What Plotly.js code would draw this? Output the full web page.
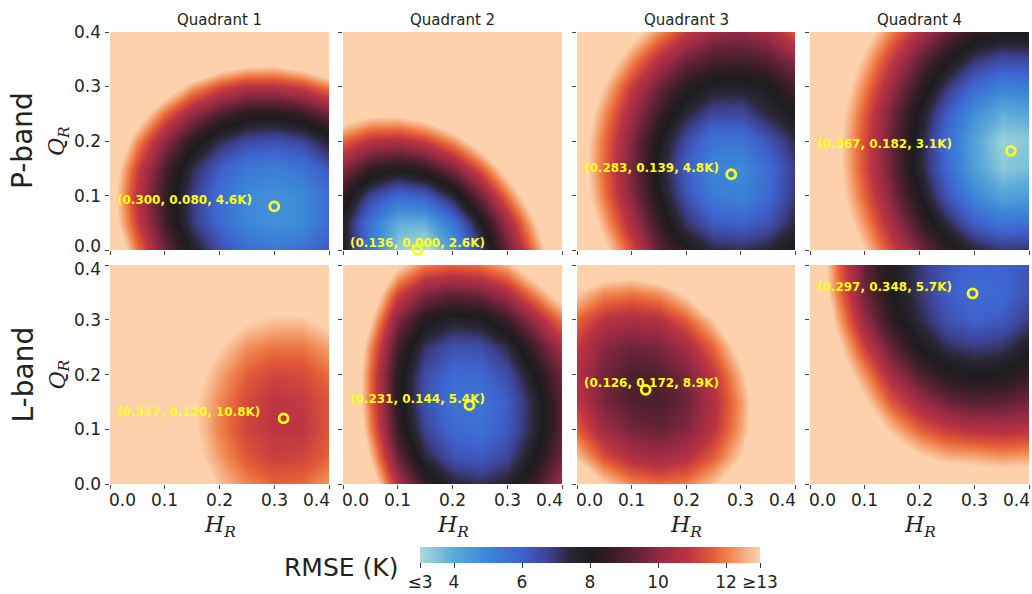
<!DOCTYPE html>
<html>
<head>
<meta charset="utf-8">
<script src="https://cdn.plot.ly/plotly-3.0.1.min.js"></script>
<style>
  html, body { margin: 0; padding: 0; background: #ffffff; }
  #chart { width: 1032px; height: 594px; }
</style>
</head>
<body>
<div id="chart"></div>
<script>
// ---------- data ----------
const hGrid = [0, 0.05, 0.1, 0.15, 0.2, 0.25, 0.3, 0.35, 0.4];
const qGrid = [0, 0.05, 0.1, 0.15, 0.2, 0.25, 0.3, 0.35, 0.4];
const axisTicks = [0, 0.1, 0.2, 0.3, 0.4];
const axisTickText = ["0.0", "0.1", "0.2", "0.3", "0.4"];

const quadrantTitles = ["Quadrant 1", "Quadrant 2", "Quadrant 3", "Quadrant 4"];
const bandLabels = ["P-band", "L-band"];

// best-fit points per panel (P-band Q1..Q4, then L-band Q1..Q4)
const minH = [0.300, 0.136, 0.283, 0.367, 0.317, 0.231, 0.126, 0.297];
const minQ = [0.080, 0.000, 0.139, 0.182, 0.120, 0.144, 0.172, 0.348];
const minRMSE = [4.6, 2.6, 4.8, 3.1, 10.8, 5.4, 8.9, 5.7];

// RMSE (K) read on a 0.05 grid; rows = Q_R from 0 to 0.4, columns = H_R from 0 to 0.4
const rmseP1 = [
  [14.6, 11.9, 9.5, 7.8, 6.5, 5.7, 5.4, 5.6, 6.3],
  [13.8, 11.1, 8.8, 7.0, 5.8, 5.0, 4.7, 4.9, 5.7],
  [13.6, 10.8, 8.6, 6.9, 5.6, 4.9, 4.7, 4.9, 5.7],
  [13.9, 11.2, 9.0, 7.3, 6.1, 5.4, 5.2, 5.5, 6.3],
  [14.9, 12.2, 10.0, 8.4, 7.2, 6.6, 6.4, 6.7, 7.6],
  [16.4, 13.8, 11.7, 10.1, 9.0, 8.3, 8.2, 8.6, 9.5],
  [18.7, 16.1, 14.0, 12.4, 11.3, 10.7, 10.7, 11.1, 12.0],
  [21.5, 19.0, 16.9, 15.4, 14.3, 13.8, 13.7, 14.2, 15.1],
  [25.0, 22.5, 20.4, 18.9, 17.9, 17.4, 17.4, 17.9, 18.9]
];
const rmseP2 = [
  [7.9, 5.4, 3.3, 2.7, 4.4, 6.8, 9.4, 12.0, 14.7],
  [7.7, 5.5, 3.9, 3.9, 5.5, 7.8, 10.3, 12.9, 15.5],
  [8.5, 6.7, 5.8, 6.1, 7.5, 9.5, 11.8, 14.2, 16.7],
  [9.9, 8.6, 8.1, 8.6, 9.8, 11.5, 13.6, 15.9, 18.3],
  [11.7, 10.8, 10.6, 11.1, 12.2, 13.8, 15.6, 17.7, 20.0],
  [13.8, 13.2, 13.2, 13.7, 14.7, 16.1, 17.9, 19.8, 21.9],
  [16.1, 15.7, 15.7, 16.3, 17.3, 18.6, 20.2, 22.0, 24.0],
  [18.4, 18.2, 18.3, 18.9, 19.8, 21.1, 22.6, 24.3, 26.2],
  [20.9, 20.7, 21.0, 21.5, 22.4, 23.6, 25.0, 26.6, 28.4]
];
const rmseP3 = [
  [15.3, 13.3, 11.3, 9.3, 8.1, 7.4, 7.2, 7.5, 8.2],
  [14.5, 12.5, 10.5, 8.6, 7.1, 6.2, 6.0, 6.4, 7.4],
  [14.0, 11.9, 9.9, 8.0, 6.4, 5.3, 5.1, 5.8, 7.0],
  [13.8, 11.7, 9.6, 7.7, 6.1, 5.0, 4.9, 5.7, 6.9],
  [13.9, 11.8, 9.8, 8.0, 6.5, 5.5, 5.5, 6.3, 7.3],
  [14.2, 12.2, 10.3, 8.7, 7.4, 6.6, 6.6, 7.4, 8.0],
  [14.8, 12.9, 11.0, 9.5, 8.3, 7.7, 7.6, 8.0, 8.9],
  [15.6, 13.9, 12.2, 10.7, 9.6, 9.0, 8.9, 9.2, 10.0],
  [16.7, 15.1, 13.5, 12.2, 11.0, 10.2, 10.0, 10.4, 11.5]
];
const rmseP4 = [
  [16.5, 14.6, 12.9, 11.2, 9.7, 8.4, 7.5, 7.0, 7.1],
  [15.9, 14.0, 12.2, 10.4, 8.7, 7.3, 6.1, 5.5, 5.6],
  [15.5, 13.5, 11.6, 9.8, 8.0, 6.3, 5.0, 4.2, 4.4],
  [15.3, 13.3, 11.3, 9.4, 7.5, 5.8, 4.3, 3.4, 3.6],
  [15.2, 13.3, 11.3, 9.4, 7.5, 5.7, 4.2, 3.2, 3.4],
  [15.4, 13.5, 11.5, 9.6, 7.8, 6.1, 4.7, 3.9, 4.1],
  [15.8, 13.9, 12.0, 10.2, 8.5, 7.0, 5.8, 5.1, 5.3],
  [16.3, 14.4, 12.7, 11.0, 9.4, 8.1, 7.1, 6.6, 6.7],
  [17.0, 15.2, 13.5, 12.0, 10.6, 9.4, 8.5, 8.1, 8.2]
];
const rmseL1 = [
  [18.4, 16.7, 15.2, 13.9, 12.8, 12.1, 11.7, 11.8, 12.3],
  [18.0, 16.3, 14.8, 13.4, 12.3, 11.5, 11.1, 11.2, 11.7],
  [17.8, 16.1, 14.5, 13.2, 12.0, 11.2, 10.9, 10.9, 11.5],
  [17.9, 16.1, 14.6, 13.2, 12.1, 11.3, 10.9, 11.0, 11.5],
  [18.1, 16.4, 14.8, 13.5, 12.4, 11.6, 11.2, 11.3, 11.8],
  [18.5, 16.8, 15.3, 14.0, 13.0, 12.2, 11.9, 11.9, 12.4],
  [19.1, 17.5, 16.0, 14.8, 13.8, 13.1, 12.8, 12.8, 13.3],
  [19.8, 18.3, 16.9, 15.7, 14.8, 14.1, 13.8, 13.9, 14.3],
  [20.7, 19.2, 17.9, 16.8, 15.9, 15.3, 15.1, 15.1, 15.5]
];
const rmseL2 = [
  [17.5, 14.0, 10.6, 8.6, 7.5, 7.2, 7.6, 8.8, 10.3],
  [16.5, 12.9, 9.4, 7.4, 6.4, 6.2, 6.7, 8.0, 9.6],
  [15.8, 12.1, 8.6, 6.7, 5.8, 5.6, 6.2, 7.5, 9.2],
  [15.5, 11.8, 8.3, 6.4, 5.5, 5.5, 6.1, 7.5, 9.2],
  [15.4, 11.8, 8.3, 6.5, 5.8, 5.8, 6.5, 8.0, 9.6],
  [15.8, 12.2, 8.8, 7.1, 6.4, 6.5, 7.3, 8.9, 10.5],
  [16.5, 13.1, 9.8, 8.2, 7.6, 7.8, 8.7, 10.3, 11.9],
  [17.5, 14.2, 11.3, 9.9, 9.5, 9.7, 10.6, 12.2, 13.8],
  [18.8, 15.5, 13.2, 12.0, 11.7, 11.9, 12.6, 14.2, 16.0]
];
const rmseL3 = [
  [14.6, 13.0, 12.1, 11.8, 12.0, 12.8, 14.1, 16.1, 18.6],
  [12.8, 11.4, 10.6, 10.3, 10.7, 11.6, 13.0, 15.1, 17.7],
  [11.6, 10.3, 9.6, 9.4, 9.8, 10.8, 12.4, 14.5, 17.3],
  [10.9, 9.7, 9.1, 9.0, 9.5, 10.6, 12.3, 14.5, 17.3],
  [10.7, 9.6, 9.0, 9.1, 9.7, 10.9, 12.7, 15.0, 17.9],
  [11.0, 9.9, 9.5, 9.7, 10.4, 11.7, 13.5, 16.0, 19.0],
  [11.7, 10.8, 10.5, 10.7, 11.6, 12.9, 14.9, 17.5, 20.6],
  [13.0, 12.2, 12.0, 12.3, 13.2, 14.7, 16.8, 19.4, 22.7],
  [14.8, 14.1, 13.9, 14.4, 15.4, 17.0, 19.2, 21.9, 25.2]
];
const rmseL4 = [
  [19.3, 17.8, 16.5, 15.4, 14.6, 14.2, 14.1, 14.0, 14.1],
  [18.2, 16.6, 15.2, 14.0, 13.1, 12.6, 12.5, 12.3, 12.4],
  [17.2, 15.6, 14.1, 12.7, 11.6, 11.0, 10.7, 10.6, 10.8],
  [16.4, 14.8, 13.1, 11.5, 10.3, 9.5, 9.2, 9.3, 9.6],
  [15.9, 14.0, 12.2, 10.4, 9.1, 8.3, 8.0, 8.1, 8.6],
  [15.6, 13.3, 11.1, 9.3, 8.0, 7.2, 6.9, 7.1, 7.8],
  [15.4, 12.6, 10.1, 8.4, 7.3, 6.4, 6.0, 6.2, 6.9],
  [15.0, 12.0, 9.5, 8.0, 7.0, 6.1, 5.7, 5.8, 6.4],
  [14.8, 11.8, 9.3, 7.9, 7.0, 6.3, 5.9, 6.0, 6.3]
];
const rmsePanels = [rmseP1, rmseP2, rmseP3, rmseP4, rmseL1, rmseL2, rmseL3, rmseL4];

const cbTickVals = [3, 4, 6, 8, 10, 12, 13];
const cbTickText = ["≤3", "4", "6", "8", "10", "12", "≥13"];

// ---------- layout geometry (pixels) ----------
const W = 1032, H = 594;
const colX = [[110, 329], [343, 562], [577, 795], [810, 1029]];
const rowY = [[32, 250], [265, 484]];
const px = v => v / W;
const py = v => 1 - v / H;

const iceFire = [
  [0.00, "#a9ddd6"],
  [0.10, "#5ca9da"],
  [0.20, "#3b86d7"],
  [0.30, "#3e62cd"],
  [0.38, "#3d4190"],
  [0.44, "#2b2738"],
  [0.50, "#1d1c1e"],
  [0.56, "#341d25"],
  [0.63, "#5e2233"],
  [0.71, "#952a44"],
  [0.79, "#bd3442"],
  [0.86, "#e35b37"],
  [0.91, "#f0864f"],
  [0.955, "#f6ae82"],
  [1.00, "#fcd1ab"]
];

const FONT = "DejaVu Sans, Arial, sans-serif";
const SERIF = "DejaVu Serif, Liberation Serif, serif";
const TXT = "#222222";
const TICKSIZE = 17;

const traces = [];
const layout = {
  width: W, height: H,
  margin: {l: 0, r: 0, t: 0, b: 0},
  paper_bgcolor: "#ffffff",
  plot_bgcolor: "#ffffff",
  showlegend: false,
  font: {family: FONT, color: TXT},
  coloraxis: {
    colorscale: iceFire,
    cmin: 3, cmax: 13,
    colorbar: {
      orientation: "h",
      x: px(590), xanchor: "center",
      y: py(547), yanchor: "top",
      len: 340 / W, lenmode: "fraction",
      thickness: 16, thicknessmode: "pixels",
      outlinewidth: 0,
      tickvals: cbTickVals,
      ticktext: cbTickText,
      ticks: "outside", ticklen: 5, tickcolor: "#333333",
      tickfont: {family: FONT, size: 17, color: TXT},
      xpad: 0, ypad: 0
    }
  },
  annotations: []
};

for (let k = 0; k < 8; k++) {
  const r = Math.floor(k / 4), c = k % 4;
  const sfx = k === 0 ? "" : String(k + 1);
  const xa = "x" + sfx, ya = "y" + sfx;

  traces.push({
    type: "heatmap",
    x: hGrid, y: qGrid, z: rmsePanels[k],
    coloraxis: "coloraxis",
    zsmooth: "best",
    xaxis: xa, yaxis: ya,
    hoverinfo: "skip"
  });
  traces.push({
    type: "scatter", mode: "markers",
    x: [minH[k]], y: [minQ[k]],
    xaxis: xa, yaxis: ya,
    cliponaxis: false,
    marker: {symbol: "circle-open", size: 9, color: "#ffff1a", line: {width: 2.8}},
    hoverinfo: "skip"
  });

  layout["xaxis" + sfx] = {
    domain: [px(colX[c][0]), px(colX[c][1])],
    anchor: ya,
    range: [0, 0.4],
    tickvals: axisTicks,
    showticklabels: false,
    ticks: "outside", ticklen: 4, tickcolor: "#444444",
    showgrid: false, zeroline: false, showline: false,
    fixedrange: true
  };
  layout["yaxis" + sfx] = {
    domain: [py(rowY[r][1]), py(rowY[r][0])],
    anchor: xa,
    range: [0, 0.4],
    tickvals: axisTicks,
    showticklabels: false,
    ticks: "outside", ticklen: 4, tickcolor: "#444444",
    showgrid: false, zeroline: false, showline: false,
    fixedrange: true
  };

  // x tick labels (bottom row): end labels aligned inward like the original
  if (r === 1) {
    axisTicks.forEach((v, i) => {
      layout.annotations.push({
        xref: xa, yref: "paper",
        x: v, y: py(500),
        xanchor: i === 0 ? "left" : (i === axisTicks.length - 1 ? "right" : "center"),
        xshift: i === 0 ? -3 : (i === axisTicks.length - 1 ? 3 : 0),
        yanchor: "middle", showarrow: false,
        text: axisTickText[i],
        font: {family: FONT, size: TICKSIZE, color: TXT}
      });
    });
  }
  // y tick labels (left column)
  if (c === 0) {
    axisTicks.forEach((v, i) => {
      let ys = 0;
      if (r === 0 && i === 0) ys = 4;
      if (r === 1 && i === axisTicks.length - 1) ys = -4;
      layout.annotations.push({
        xref: "paper", yref: ya,
        x: px(103), y: v,
        xanchor: "right", yanchor: "middle", yshift: ys,
        showarrow: false,
        text: axisTickText[i],
        font: {family: FONT, size: TICKSIZE, color: TXT}
      });
    });
  }

  layout.annotations.push({
    xref: xa, yref: ya,
    x: 0.01, y: minQ[k] + 0.012,
    xanchor: "left", yanchor: "middle",
    showarrow: false,
    text: "<b>(" + minH[k].toFixed(3) + ", " + minQ[k].toFixed(3) + ", " + minRMSE[k].toFixed(1) + "K)</b>",
    font: {family: FONT, size: 12, color: "#ffff1a"}
  });
}

// column titles and H_R labels
for (let c = 0; c < 4; c++) {
  layout.annotations.push({
    xref: "paper", yref: "paper",
    x: px((colX[c][0] + colX[c][1]) / 2), y: py(20),
    xanchor: "center", yanchor: "middle", showarrow: false,
    text: quadrantTitles[c],
    font: {family: FONT, size: 15, color: TXT}
  });
  layout.annotations.push({
    xref: "paper", yref: "paper",
    x: px((colX[c][0] + colX[c][1]) / 2), y: py(526),
    xanchor: "center", yanchor: "middle", showarrow: false,
    text: "<i>H</i><sub><i>R</i></sub>",
    font: {family: SERIF, size: 22, color: TXT}
  });
}

// row labels and Q_R titles
for (let r = 0; r < 2; r++) {
  const yc = py((rowY[r][0] + rowY[r][1]) / 2);
  layout.annotations.push({
    xref: "paper", yref: "paper",
    x: px(23), y: yc,
    xanchor: "center", yanchor: "middle", showarrow: false,
    textangle: -90,
    text: bandLabels[r],
    font: {family: FONT, size: 28, color: TXT}
  });
  layout.annotations.push({
    xref: "paper", yref: "paper",
    x: px(59), y: yc,
    xanchor: "center", yanchor: "middle", showarrow: false,
    textangle: -90,
    text: "<i>Q</i><sub><i>R</i></sub>",
    font: {family: SERIF, size: 22, color: TXT}
  });
}

// colorbar label
layout.annotations.push({
  xref: "paper", yref: "paper",
  x: px(341), y: py(567),
  xanchor: "center", yanchor: "middle", showarrow: false,
  text: "RMSE (K)",
  font: {family: FONT, size: 25, color: TXT}
});

Plotly.newPlot("chart", traces, layout, {displayModeBar: false, staticPlot: true});
</script>
</body>
</html>
